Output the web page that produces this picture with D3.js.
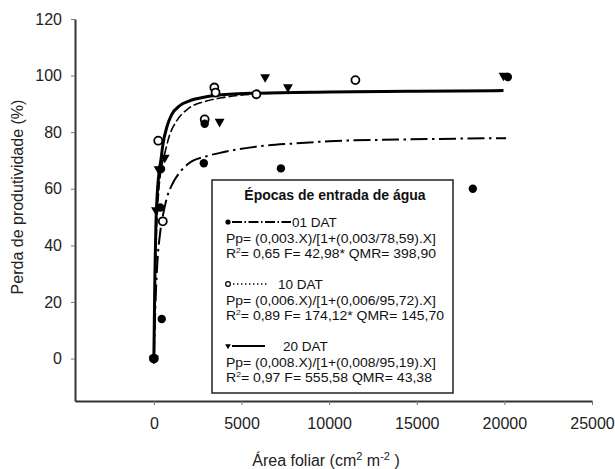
<!DOCTYPE html>
<html>
<head>
<meta charset="utf-8">
<script src="https://cdn.jsdelivr.net/npm/d3@7"></script>
<style>
  body { margin: 0; background: #fff; }
  svg { display: block; font-family: "Liberation Sans", Arial, sans-serif; }
</style>
</head>
<body>
<svg id="chart" width="615" height="469"></svg>
<script>
// Data
const xTicks = [0, 5000, 10000, 15000, 20000, 25000];
const yTicks = [0, 20, 40, 60, 80, 100, 120];

// observed points [area, loss]
const dat01 = [[0, 0], [360, 53.4], [410, 67], [450, 14], [2850, 69], [2900, 83],
  [7250, 67.2], [18200, 60], [20200, 99.5]];
const dat10 = [[0, 0], [250, 77], [510, 48.5], [2900, 84.5], [3450, 95.8], [3520, 94],
  [5850, 93.4], [11500, 98.4]];
const dat20 = [[0, 0], [120, 52.5], [270, 67], [620, 71], [3750, 83.7], [6350, 99.5],
  [7650, 95.9], [19950, 100]];

// fitted curves
const fit01 = [[0, 0], [100, 21], [200, 34], [350, 44], [500, 50], [750, 57], [1000, 61],
  [1500, 66], [2000, 69], [3000, 71.5], [4000, 73], [6000, 75], [8000, 76],
  [10000, 76.8], [14000, 77.4], [20100, 77.9]];
const fit10 = [[0, 0], [100, 36], [200, 52], [300, 61], [450, 68], [600, 72], [900, 79],
  [1300, 84], [2000, 88.5], [3000, 91], [4000, 92.3], [5800, 93.5], [10000, 94.2],
  [15000, 94.5], [20000, 94.7]];
const fit20 = [[0, 0], [60, 30], [120, 48], [200, 59], [300, 66], [420, 71], [500, 75],
  [750, 82], [1000, 86], [1500, 89.5], [2000, 91], [3000, 92.5], [4300, 93.4],
  [6000, 93.8], [10000, 94.2], [15000, 94.5], [19950, 94.7]];

const legendTitle = "Épocas de entrada de água";
const legendRows = [
  {name: "01 DAT", eq: "Pp= (0,003.X)/[1+(0,003/78,59).X]", r2: "0,65", stats: " F= 42,98* QMR= 398,90"},
  {name: "10 DAT", eq: "Pp= (0,006.X)/[1+(0,006/95,72).X]", r2: "0,89", stats: " F= 174,12* QMR= 145,70"},
  {name: "20 DAT", eq: "Pp= (0,008.X)/[1+(0,008/95,19).X]", r2: "0,97", stats: " F= 555,58 QMR= 43,38"}
];

const svg = d3.select("#chart");

const x = d3.scaleLinear().domain([-4500, 25000]).range([75, 592]);
const y = d3.scaleLinear().domain([-15, 120]).range([401, 19]);

// Axes
const gx = svg.append("g")
  .attr("transform", `translate(0,${y(-15)})`)
  .call(d3.axisBottom(x).tickValues(xTicks).tickFormat(d3.format("d"))
    .tickSize(4).tickSizeOuter(0).tickPadding(13));
const gy = svg.append("g")
  .attr("transform", `translate(${x(-4500)},0)`)
  .call(d3.axisLeft(y).tickValues(yTicks).tickFormat(d3.format("d"))
    .tickSize(4).tickSizeOuter(0).tickPadding(9));

[gx, gy].forEach(g => {
  g.select(".domain").attr("stroke", "#333").attr("stroke-width", 2);
  g.selectAll(".tick line").attr("stroke", "#777");
  g.selectAll(".tick text").attr("font-size", 16).attr("fill", "#222")
    .attr("font-family", "Liberation Sans, Arial, sans-serif");
});

// Axis titles
const xt = svg.append("text")
  .attr("x", 326).attr("y", 466)
  .attr("text-anchor", "middle").attr("font-size", 16).attr("fill", "#222");
xt.append("tspan").text("Área foliar (cm");
xt.append("tspan").attr("dy", -6).attr("font-size", 11).text("2");
xt.append("tspan").attr("dy", 6).text(" m");
xt.append("tspan").attr("dy", -6).attr("font-size", 11).text("-2");
xt.append("tspan").attr("dy", 6).text("  )");

svg.append("text")
  .attr("transform", "translate(23,197) rotate(-90)")
  .attr("text-anchor", "middle").attr("font-size", 16).attr("fill", "#222")
  .text("Perda de produtividade (%)");

// Curves
const line = d3.line().x(d => x(d[0])).y(d => y(d[1])).curve(d3.curveMonotoneX);

svg.append("path").datum(fit01).attr("d", line)
  .attr("fill", "none").attr("stroke", "#000").attr("stroke-width", 2)
  .attr("stroke-dasharray", "17,4.5,2.5,4.5");
svg.append("path").datum(fit10).attr("d", line)
  .attr("fill", "none").attr("stroke", "#000").attr("stroke-width", 1.6)
  .attr("stroke-dasharray", "9,3");
svg.append("path").datum(fit20).attr("d", line)
  .attr("fill", "none").attr("stroke", "#000").attr("stroke-width", 3);

// Points
const tri = d3.symbol(d3.symbolTriangle, 42);

svg.selectAll(".p20").data(dat20).enter().append("path")
  .attr("class", "p20")
  .attr("d", tri)
  .attr("transform", d => `translate(${x(d[0])},${y(d[1])}) rotate(180)`)
  .attr("fill", "#000");

svg.selectAll(".p10").data(dat10).enter().append("circle")
  .attr("class", "p10")
  .attr("cx", d => x(d[0])).attr("cy", d => y(d[1])).attr("r", 4)
  .attr("fill", "#fff").attr("stroke", "#000").attr("stroke-width", 1.8);

svg.selectAll(".p01").data(dat01).enter().append("circle")
  .attr("class", "p01")
  .attr("cx", d => x(d[0])).attr("cy", d => y(d[1])).attr("r", 4.2)
  .attr("fill", "#000");

// Legend
const lg = svg.append("g");
lg.append("rect")
  .attr("x", 212).attr("y", 180).attr("width", 241).attr("height", 213)
  .attr("fill", "#fff").attr("stroke", "#222").attr("stroke-width", 1.5);

lg.append("text")
  .attr("x", 335).attr("y", 200).attr("text-anchor", "middle")
  .attr("font-size", 14).attr("font-weight", "bold").attr("fill", "#111")
  .text(legendTitle);

const rowTop = [222, 284, 346];
const r2Width = [210, 218, 206];
const lineStyle = [
  {x1: 232, x2: 291, dash: "10,2.5,1.5,2.5", w: 2, tx: 292},
  {x1: 233, x2: 269, dash: "1.4,2.6", w: 1.3, tx: 278},
  {x1: 232, x2: 265, dash: null, w: 2, tx: 283}
];

legendRows.forEach((r, i) => {
  const cy = rowTop[i];
  const s = lineStyle[i];
  if (i == 0) {
    lg.append("circle").attr("cx", 228).attr("cy", cy).attr("r", 2.6).attr("fill", "#000");
  } else if (i == 1) {
    lg.append("circle").attr("cx", 228).attr("cy", cy).attr("r", 2.4)
      .attr("fill", "#fff").attr("stroke", "#000").attr("stroke-width", 1.2);
  } else {
    lg.append("path").attr("d", d3.symbol(d3.symbolTriangle, 14))
      .attr("transform", `translate(228,${cy}) rotate(180)`).attr("fill", "#000");
  }
  lg.append("line")
    .attr("x1", s.x1).attr("x2", s.x2).attr("y1", cy).attr("y2", cy)
    .attr("stroke", "#000").attr("stroke-width", s.w)
    .attr("stroke-dasharray", s.dash);
  lg.append("text")
    .attr("x", s.tx).attr("y", cy + 5).attr("font-size", 13.5).attr("fill", "#111")
    .text(r.name);
  lg.append("text")
    .attr("x", 226).attr("y", cy + 20.5).attr("font-size", 13).attr("fill", "#111")
    .attr("textLength", 210).attr("lengthAdjust", "spacingAndGlyphs")
    .text(r.eq);
  const t = lg.append("text")
    .attr("x", 226).attr("y", cy + 36).attr("font-size", 13).attr("fill", "#111")
    .attr("textLength", r2Width[i]).attr("lengthAdjust", "spacingAndGlyphs");
  t.append("tspan").text("R");
  t.append("tspan").attr("dy", -5).attr("font-size", 8).text("2");
  t.append("tspan").attr("dy", 5).text("= " + r.r2 + r.stats);
});
</script>
</body>
</html>
